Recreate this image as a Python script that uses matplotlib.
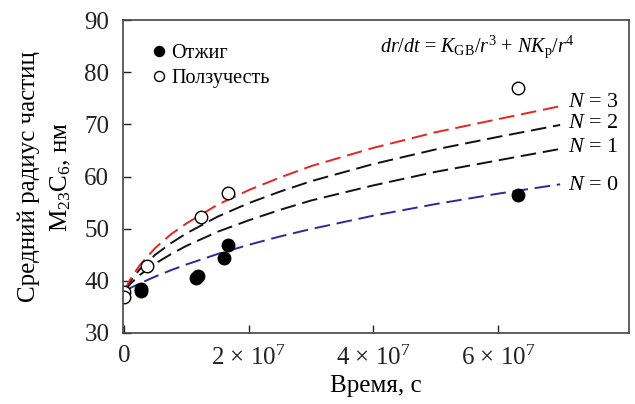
import matplotlib
matplotlib.use("Agg")
import matplotlib.pyplot as plt

plt.rcParams['font.family'] = ['Liberation Serif', 'DejaVu Serif']
plt.rcParams['mathtext.fontset'] = 'custom'
plt.rcParams['mathtext.rm'] = 'Liberation Serif'
plt.rcParams['mathtext.it'] = 'Liberation Serif:italic'

# Data (time in 1e7 s)
anneal_t = [0.27, 0.27, 1.15, 1.19, 1.60, 1.675, 6.33]
anneal_r = [38.5, 38.0, 40.5, 41.0, 44.4, 46.9, 56.4]
creep_t = [0.0, 0.0, 0.375, 1.23, 1.675, 6.33]
creep_r = [37.9, 36.8, 42.8, 52.3, 56.9, 76.9]

curve_t = [0, 0.1, 0.25, 0.5, 0.75, 1, 1.5, 2, 2.5, 3, 4, 5, 6, 7]
n0 = [38.0, 38.61, 39.48, 40.81, 42.02, 43.13, 45.13, 46.90, 48.5, 49.93, 52.49, 54.72, 56.71, 58.51]
n1 = [38.0, 39.4, 41.1, 43.3, 45.1, 46.7, 49.4, 51.6, 53.6, 55.4, 58.3, 60.9, 63.1, 65.3]
n2 = [38.0, 39.9, 42.2, 45.0, 47.2, 49.1, 52.3, 54.9, 57.1, 59.1, 62.4, 65.2, 67.6, 69.9]
n3 = [38.0, 40.3, 43.0, 46.3, 48.9, 51.0, 54.6, 57.4, 59.8, 62.0, 65.5, 68.5, 71.0, 73.5]
curve_labels = ['$N$ = 0', '$N$ = 1', '$N$ = 2', '$N$ = 3']
curve_label_y = [58.2, 65.5, 70.1, 74.3]

xticks = [0, 2, 4, 6]
xticklabels = ['0', r'2 × 10$^7$', r'4 × 10$^7$', r'6 × 10$^7$']
yticks = [30, 40, 50, 60, 70, 80, 90]

fig = plt.figure(figsize=(6.35, 4.04), dpi=100)
ax = fig.add_axes([0.194, 0.176, 0.796, 0.774])

dash = (0, (8, 3.5))
scale = 1e7
ct = [t * scale for t in curve_t]
ax.plot(ct, n0, color='#2a2a9c', lw=1.4, linestyle=dash)
ax.plot(ct, n1, color='#111111', lw=1.4, linestyle=dash)
ax.plot(ct, n2, color='#111111', lw=1.4, linestyle=dash)
ax.plot(ct, n3, color='#e62424', lw=1.4, linestyle=dash)

h1, = ax.plot([t * scale for t in anneal_t], anneal_r, 'o', color='black', ms=9,
              mec='black', linestyle='none', label='Отжиг')
h2, = ax.plot([t * scale for t in creep_t], creep_r, 'o', mfc='white', mec='black',
              mew=1.0, ms=9, linestyle='none', label='Ползучесть')

for lab, yy in zip(curve_labels, curve_label_y):
    ax.text(7.12e7, yy, lab, fontsize=16, ha='left', va='center')

ax.text(0.70, 0.915, r'$dr/dt$ = $K_{\mathrm{GB}}/r^3$ + $NK_{\mathrm{p}}/r^4$',
        transform=ax.transAxes, fontsize=14.5, ha='center', va='center')

leg = ax.legend(handles=[h1, h2], loc='upper left', bbox_to_anchor=(0.035, 0.95),
                frameon=False, fontsize=14.5, handletextpad=0.1, handlelength=1.0,
                labelspacing=0.3, borderaxespad=0, markerscale=0.8)

ax.set_xlim(-0.015e7, 8.1e7)
ax.set_ylim(30, 90)
ax.set_xticks([t * scale for t in xticks])
ax.set_xticklabels(xticklabels)
ax.set_yticks(yticks)
ax.tick_params(direction='in', length=6, width=1, labelsize=18, colors='#222222',
               top=False, right=False)
ax.tick_params(axis='y', pad=10)
ax.tick_params(axis='x', pad=9)
for s in ax.spines.values():
    s.set_color('#444444')
    s.set_linewidth(1.2)

ax.set_xlabel('Время, с', fontsize=18, labelpad=4)
ax.set_ylabel('Средний радиус частиц\nM$_{23}$C$_6$, нм', fontsize=18, labelpad=8,
              linespacing=1.5)

fig.savefig('out.png', dpi=100)
